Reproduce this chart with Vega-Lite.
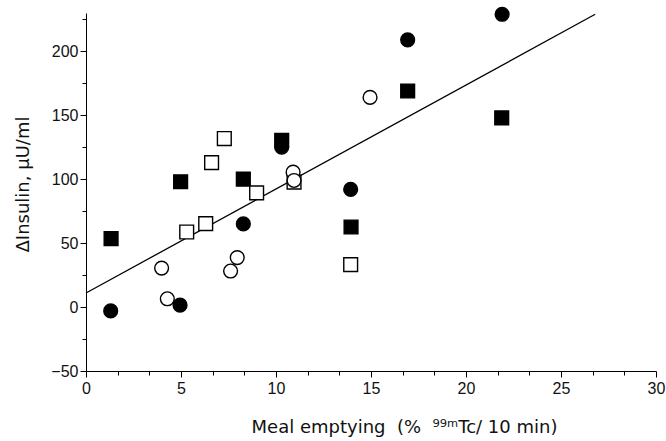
{
  "$schema": "https://vega.github.io/schema/vega-lite/v6.json",
  "width": 570,
  "height": 358,
  "autosize": {"type": "none"},
  "padding": {"left": 86, "top": 13, "right": 10, "bottom": 70},
  "background": "white",
  "config": {
    "view": {"stroke": null},
    "font": "Liberation Sans",
    "axis": {"grid": false, "domainColor": "black", "tickColor": "black", "labelColor": "#111", "titleColor": "#111", "labelFont": "Liberation Sans", "titleFont": "DejaVu Sans", "labelFontSize": 16, "titleFontSize": 18, "titleFontWeight": "normal"}
  },
  "datasets": {
    "pts": [
      {"x": 1.3, "y": -3, "g": "fc"},
      {"x": 4.95, "y": 1.5, "g": "fc"},
      {"x": 8.28, "y": 65, "g": "fc"},
      {"x": 10.3, "y": 125, "g": "fc"},
      {"x": 13.93, "y": 92, "g": "fc"},
      {"x": 16.93, "y": 209, "g": "fc"},
      {"x": 21.9, "y": 229, "g": "fc"},
      {"x": 1.32, "y": 53.5, "g": "fs"},
      {"x": 4.98, "y": 98, "g": "fs"},
      {"x": 8.28, "y": 100, "g": "fs"},
      {"x": 10.3, "y": 130.5, "g": "fs"},
      {"x": 13.95, "y": 62.6, "g": "fs"},
      {"x": 16.93, "y": 169, "g": "fs"},
      {"x": 21.88, "y": 148, "g": "fs"},
      {"x": 5.3, "y": 58.7, "g": "os"},
      {"x": 6.3, "y": 65.3, "g": "os"},
      {"x": 6.61, "y": 113, "g": "os"},
      {"x": 7.28, "y": 131.8, "g": "os"},
      {"x": 8.98, "y": 89.3, "g": "os"},
      {"x": 10.95, "y": 97.7, "g": "os"},
      {"x": 13.93, "y": 33.2, "g": "os"},
      {"x": 3.98, "y": 30.5, "g": "oc"},
      {"x": 4.28, "y": 6.5, "g": "oc"},
      {"x": 7.61, "y": 28.2, "g": "oc"},
      {"x": 7.96, "y": 38.7, "g": "oc"},
      {"x": 10.9, "y": 105.5, "g": "oc"},
      {"x": 10.95, "y": 99, "g": "oc"},
      {"x": 14.95, "y": 164, "g": "oc"}
    ],
    "fit": [
      {"x": 0, "y": 11},
      {"x": 26.8, "y": 229}
    ]
  },
  "resolve": {"axis": {"x": "independent", "y": "independent"}},
  "layer": [
    {
      "data": {"name": "fit"},
      "mark": {"type": "line", "color": "black", "strokeWidth": 1.3},
      "encoding": {
        "x": {"field": "x", "type": "quantitative", "scale": {"domain": [0, 30], "nice": false},
          "axis": {"orient": "bottom", "values": [0, 5, 10, 15, 20, 25, 30], "tickSize": 6, "labelPadding": 3, "title": "Meal emptying\u00a0 (%\u00a0 ⁹⁹ᵐTc/ 10 min)", "titleX": 318, "titleY": 47, "labelFlush": false}},
        "y": {"field": "y", "type": "quantitative", "scale": {"domain": [-50, 230], "nice": false, "zero": false},
          "axis": {"orient": "left", "values": [-50, 0, 50, 100, 150, 200], "tickSize": 6, "labelPadding": 2, "title": "ΔInsulin, μU/ml", "titleX": -54, "titleY": 171, "labelFlush": false}}
      }
    },
    {
      "data": {"name": "pts"},
      "mark": {"type": "point", "filled": false, "stroke": "black", "strokeWidth": 1.4, "opacity": 1, "size": 190},
      "encoding": {
        "x": {"field": "x", "type": "quantitative", "scale": {"domain": [0, 30], "nice": false},
          "axis": {"orient": "bottom", "values": [1.667, 3.333, 6.667, 8.333, 11.667, 13.333, 16.667, 18.333, 21.667, 23.333, 26.667, 28.333], "tickSize": 4, "labels": false, "domain": false, "title": null}},
        "y": {"field": "y", "type": "quantitative", "scale": {"domain": [-50, 230], "nice": false, "zero": false},
          "axis": {"orient": "left", "values": [-25, 25, 75, 125, 175, 225], "tickSize": 4, "labels": false, "domain": false, "title": null}},
        "shape": {"field": "g", "type": "nominal", "scale": {"domain": ["fc", "oc", "fs", "os"], "range": ["circle", "circle", "square", "square"]}, "legend": null},
        "fill": {"field": "g", "type": "nominal", "scale": {"domain": ["fc", "oc", "fs", "os"], "range": ["black", "white", "black", "white"]}, "legend": null}
      }
    }
  ]
}
